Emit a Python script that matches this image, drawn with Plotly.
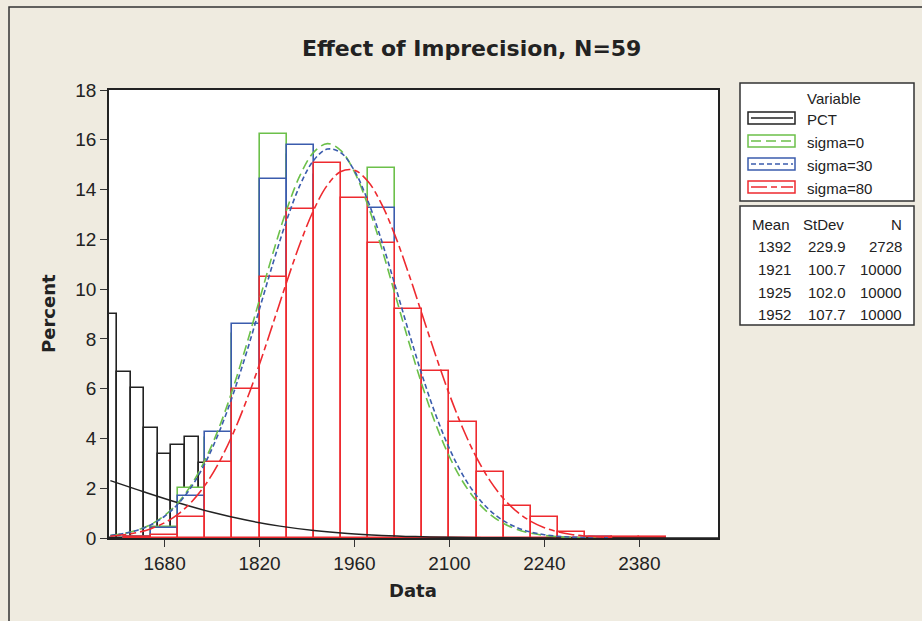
import plotly.graph_objects as go

# ---------------- data ----------------
pct_bins = [1600, 1620, 1640, 1660, 1680, 1700, 1720, 1740]
pct_pct = [9.0, 6.67, 6.02, 4.4, 3.37, 3.73, 4.06, 3.0]

bins40 = [1640, 1680, 1720, 1760, 1800, 1840, 1880, 1920, 1960, 2000, 2040,
          2080, 2120, 2160, 2200, 2240, 2280, 2320, 2360, 2400]
sigma0_pct = [0.06, 0.45, 2.0, 4.0, 8.2, 16.22, 15.4, 14.8, 13.2, 14.86, 7.9,
              5.3, 2.9, 1.5, 0.7, 0.3, 0.1, 0.02, 0.0, 0.0]
sigma30_pct = [0.05, 0.41, 1.69, 4.27, 8.6, 14.42, 15.78, 14.6, 13.4, 13.25, 8.3,
               5.6, 3.1, 1.6, 0.75, 0.33, 0.12, 0.03, 0.0, 0.0]
sigma80_pct = [0.04, 0.12, 0.85, 3.04, 6.0, 10.5, 13.2, 15.06, 13.65, 11.85, 9.2,
               6.7, 4.66, 2.65, 1.29, 0.84, 0.26, 0.05, 0.04, 0.03]

fit_x = [1600, 1620, 1640, 1660, 1680, 1700, 1720, 1740, 1760, 1780, 1800, 1820,
         1840, 1860, 1880, 1900, 1920, 1940, 1960, 1980, 2000, 2020, 2040, 2060,
         2080, 2100, 2120, 2140, 2160, 2180, 2200, 2220, 2240, 2260, 2280, 2300,
         2320, 2340]
fit_sigma0 = [0.098, 0.182, 0.323, 0.551, 0.904, 1.426, 2.162, 3.152, 4.415, 5.947,
              7.698, 9.583, 11.467, 13.191, 14.586, 15.506, 15.846, 15.567, 14.701,
              13.348, 11.649, 9.775, 7.884, 6.112, 4.556, 3.264, 2.249, 1.489, 0.948,
              0.580, 0.341, 0.193, 0.105, 0.055, 0.028, 0.013, 0.006, 0.003]
fit_sigma30 = [0.098, 0.179, 0.316, 0.535, 0.874, 1.373, 2.076, 3.021, 4.229, 5.695,
               7.383, 9.210, 11.056, 12.770, 14.195, 15.182, 15.626, 15.477, 14.750,
               13.528, 11.940, 10.139, 8.286, 6.516, 4.931, 3.591, 2.516, 1.696, 1.101,
               0.687, 0.413, 0.239, 0.133, 0.071, 0.037, 0.018, 0.009, 0.004]
fit_sigma80 = [0.071, 0.128, 0.223, 0.375, 0.611, 0.959, 1.456, 2.135, 3.024, 4.140,
               5.473, 6.992, 8.628, 10.287, 11.849, 13.187, 14.177, 14.725, 14.776,
               14.325, 13.417, 12.140, 10.612, 8.961, 7.312, 5.764, 4.389, 3.229, 2.295,
               1.576, 1.045, 0.670, 0.415, 0.248, 0.143, 0.080, 0.043, 0.023]
fit_pct_x = [1600, 1650, 1700, 1750, 1800, 1850, 1900, 1950, 2000, 2050, 2100,
             2150, 2200, 2250, 2300, 2350, 2400, 2450, 2500]
fit_pct = [2.305, 1.849, 1.415, 1.032, 0.719, 0.477, 0.302, 0.182, 0.105, 0.058,
           0.030, 0.015, 0.007, 0.003, 0.0013, 0.0005, 0.0002, 0.0001, 0.0]

x_ticks = [1680, 1820, 1960, 2100, 2240, 2380]
y_ticks = [0, 2, 4, 6, 8, 10, 12, 14, 16, 18]

legend_names = ["PCT", "sigma=0", "sigma=30", "sigma=80"]
stat_mean = ["1392", "1921", "1925", "1952"]
stat_sd = ["229.9", "100.7", "102.0", "107.7"]
stat_n = ["2728", "10000", "10000", "10000"]

# ---------------- styles ----------------
C_BLACK = "#222222"
C_GREEN = "#6cc04a"
C_BLUE = "#3b5cad"
C_RED = "#ee2a2f"
DASH_G = "10px,5px"
DASH_B = "5px,3px"
DASH_R = "16px,4px,6px,4px"
BG = "#efebe0"

W, H = 922, 621
L, R, T, B = 109, 718, 90, 538


def px(x):
    return (x - L) / (R - L)


def py(y):
    return (B - y) / (B - T)


fig = go.Figure()

fig.add_trace(go.Bar(x=pct_bins, y=pct_pct, width=20,
                     marker=dict(color="white", line=dict(color=C_BLACK, width=1.6))))
fig.add_trace(go.Bar(x=bins40, y=sigma0_pct, width=40,
                     marker=dict(color="white", line=dict(color=C_GREEN, width=1.6))))
fig.add_trace(go.Bar(x=bins40, y=sigma30_pct, width=40,
                     marker=dict(color="white", line=dict(color=C_BLUE, width=1.6))))
fig.add_trace(go.Bar(x=bins40, y=sigma80_pct, width=40,
                     marker=dict(color="white", line=dict(color=C_RED, width=1.6))))

fig.add_trace(go.Scatter(x=fit_pct_x, y=fit_pct, mode="lines",
                         line=dict(color=C_BLACK, width=1.5, shape="spline")))
fig.add_trace(go.Scatter(x=fit_x, y=fit_sigma0, mode="lines",
                         line=dict(color=C_GREEN, width=1.6, dash=DASH_G, shape="spline")))
fig.add_trace(go.Scatter(x=fit_x, y=fit_sigma30, mode="lines",
                         line=dict(color=C_BLUE, width=1.6, dash=DASH_B, shape="spline")))
fig.add_trace(go.Scatter(x=fit_x, y=fit_sigma80, mode="lines",
                         line=dict(color=C_RED, width=1.6, dash=DASH_R, shape="spline")))

shapes = []
annotations = []

# outer frame
shapes.append(dict(type="rect", xref="paper", yref="paper",
                   x0=px(9), x1=px(940), y0=py(7), y1=py(640),
                   line=dict(color="#333333", width=1.5), fillcolor="rgba(0,0,0,0)",
                   layer="below"))

# legend boxes
for (y0, y1) in [(83, 201), (206, 325)]:
    shapes.append(dict(type="rect", xref="paper", yref="paper",
                       x0=px(740), x1=px(914), y0=py(y0), y1=py(y1),
                       line=dict(color="#333333", width=1.5), fillcolor="white"))

annotations.append(dict(text="Variable", xref="paper", yref="paper",
                        x=px(834), y=py(98), showarrow=False, xanchor="center",
                        yanchor="middle", font=dict(family="Liberation Sans", size=15,
                                                    color="#222222")))

sw_colors = [C_BLACK, C_GREEN, C_BLUE, C_RED]
sw_dash = ["solid", DASH_G, DASH_B, DASH_R]
sw_y = [118, 141, 164, 187]
for name, col, dsh, yy in zip(legend_names, sw_colors, sw_dash, sw_y):
    shapes.append(dict(type="rect", xref="paper", yref="paper",
                       x0=px(748), x1=px(795), y0=py(yy - 6), y1=py(yy + 6),
                       line=dict(color=col, width=1.5), fillcolor="white"))
    shapes.append(dict(type="line", xref="paper", yref="paper",
                       x0=px(751), x1=px(793), y0=py(yy), y1=py(yy),
                       line=dict(color=col, width=1.5, dash=dsh)))
    annotations.append(dict(text=name, xref="paper", yref="paper",
                            x=px(805), y=py(yy + 1), showarrow=False, xanchor="left",
                            yanchor="middle", font=dict(family="Liberation Sans", size=15,
                                                        color="#222222")))

tfont = dict(family="Liberation Sans", size=15, color="#222222")
hdr_y = 224
annotations.append(dict(text="Mean", xref="paper", yref="paper", x=px(792), y=py(hdr_y),
                        showarrow=False, xanchor="right", yanchor="middle", font=tfont))
annotations.append(dict(text="StDev", xref="paper", yref="paper", x=px(846), y=py(hdr_y),
                        showarrow=False, xanchor="right", yanchor="middle", font=tfont))
annotations.append(dict(text="N", xref="paper", yref="paper", x=px(904), y=py(hdr_y),
                        showarrow=False, xanchor="right", yanchor="middle", font=tfont))
row_y = [246, 269, 292, 314]
for m, s, n, yy in zip(stat_mean, stat_sd, stat_n, row_y):
    annotations.append(dict(text=m, xref="paper", yref="paper", x=px(793), y=py(yy),
                            showarrow=False, xanchor="right", yanchor="middle", font=tfont))
    annotations.append(dict(text=s, xref="paper", yref="paper", x=px(848), y=py(yy),
                            showarrow=False, xanchor="right", yanchor="middle", font=tfont))
    annotations.append(dict(text=n, xref="paper", yref="paper", x=px(904), y=py(yy),
                            showarrow=False, xanchor="right", yanchor="middle", font=tfont))

# title and axis titles
annotations.append(dict(text="<b>Effect of Imprecision, N=59</b>", xref="paper", yref="paper",
                        x=px(471), y=py(48), showarrow=False, xanchor="center",
                        yanchor="middle", font=dict(family="DejaVu Sans", size=22,
                                                    color="#222222")))
annotations.append(dict(text="<b>Data</b>", xref="paper", yref="paper",
                        x=px(413), y=py(590), showarrow=False, xanchor="center",
                        yanchor="middle", font=dict(family="DejaVu Sans", size=18,
                                                    color="#222222")))
annotations.append(dict(text="<b>Percent</b>", xref="paper", yref="paper",
                        x=px(48), y=py(314), showarrow=False, xanchor="center",
                        yanchor="middle", textangle=-90,
                        font=dict(family="DejaVu Sans", size=18, color="#222222")))

fig.update_layout(
    width=W, height=H,
    margin=dict(l=L, r=W - R, t=T, b=H - B, pad=0),
    paper_bgcolor=BG, plot_bgcolor="white",
    barmode="overlay", bargap=0, showlegend=False,
    shapes=shapes, annotations=annotations,
    font=dict(family="Liberation Sans", size=19, color="#222222"),
)
fig.update_xaxes(range=[1598, 2496], tickvals=x_ticks, ticks="outside", ticklen=7,
                 tickwidth=1.3, tickcolor="#333333", showline=True, linecolor="#222222",
                 linewidth=1.5, mirror=True, showgrid=False, zeroline=False,
                 tickfont=dict(family="Liberation Sans", size=19, color="#222222"))
fig.update_yaxes(range=[0, 18], tickvals=y_ticks, ticks="outside", ticklen=7,
                 tickwidth=1.3, tickcolor="#333333", showline=True, linecolor="#222222",
                 linewidth=1.5, mirror=True, showgrid=False, zeroline=False,
                 tickfont=dict(family="Liberation Sans", size=19, color="#222222"))

fig.write_html("out.html",
               config={"displayModeBar": False},
               post_script="document.body.style.margin='0';"
                           "document.body.style.background='#efebe0';")
